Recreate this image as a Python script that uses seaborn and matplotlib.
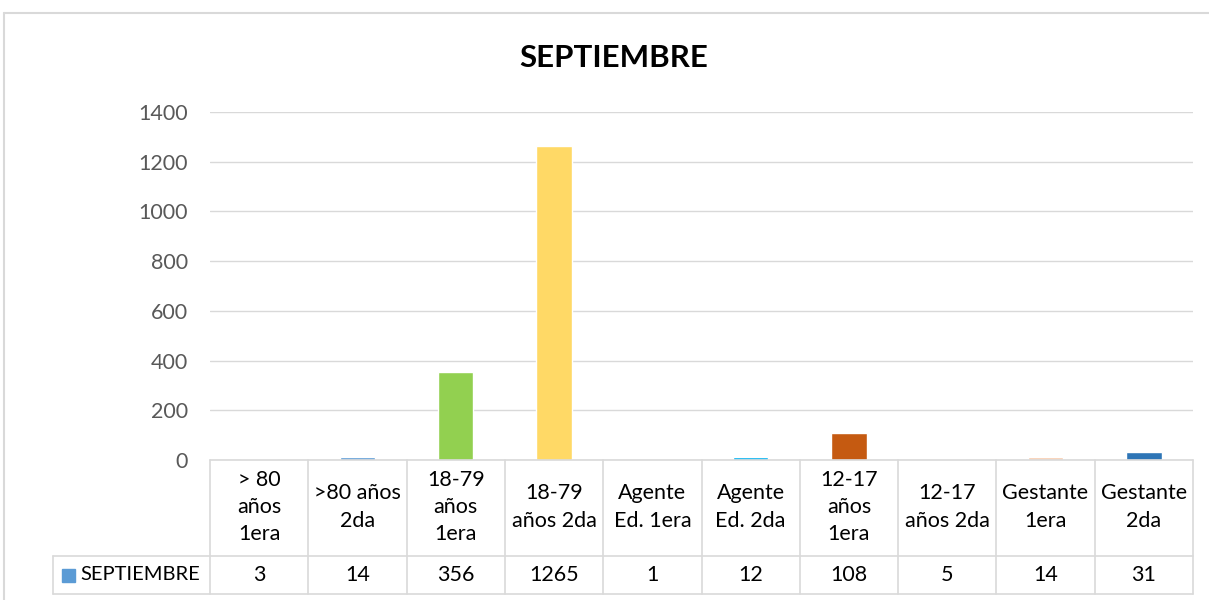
import matplotlib
matplotlib.use("Agg")
import matplotlib.pyplot as plt
import seaborn as sns
import pandas as pd
from matplotlib.patches import Rectangle
from matplotlib.lines import Line2D

categories = ["> 80\naños\n1era", ">80 años\n2da", "18-79\naños\n1era", "18-79\naños 2da",
              "Agente\nEd. 1era", "Agente\nEd. 2da", "12-17\naños\n1era", "12-17\naños 2da",
              "Gestante\n1era", "Gestante\n2da"]
values = [3, 14, 356, 1265, 1, 12, 108, 5, 14, 31]
colors = ["#5B9BD5", "#5B9BD5", "#92D050", "#FFD966", "#A5A5A5", "#00B0F0",
          "#C55A11", "#7F7F7F", "#F8CBAD", "#2E75B6"]
series_name = "SEPTIEMBRE"
title = "SEPTIEMBRE"
yticks = [0, 200, 400, 600, 800, 1000, 1200, 1400]

sns.set_theme(style="white")
plt.rcParams["font.family"] = ["Lato", "DejaVu Sans"]

W, H = 1209, 600
fig = plt.figure(figsize=(W / 100, H / 100), dpi=100)
fig.patch.set_facecolor("white")

x0, x1, y0, y1 = 210, 1193, 460, 112
ax = fig.add_axes([x0 / W, 1 - y0 / H, (x1 - x0) / W, (y0 - y1) / H])

df = pd.DataFrame({"cat": categories, "val": values})
sns.barplot(data=df, x="cat", y="val", hue="cat", palette=colors, legend=False,
            width=0.36, ax=ax, saturation=1)

ax.set_ylim(0, 1400)
ax.set_xlim(-0.5, len(categories) - 0.5)
ax.set_yticks(yticks)
ax.set_yticklabels([str(v) for v in yticks], fontsize=15.5, color="#595959")
ax.tick_params(axis="y", length=0, pad=16)
ax.set_xticks([])
ax.set_xlabel("")
ax.set_ylabel("")
for s in ax.spines.values():
    s.set_visible(False)
ax.grid(axis="y", color="#D9D9D9", linewidth=1)
ax.set_axisbelow(True)

# outer chart frame
fig.add_artist(Line2D([4 / W, 4 / W], [0, 1 - 13 / H], color="#D9D9D9", lw=1.5))
fig.add_artist(Line2D([4 / W, 1], [1 - 13 / H, 1 - 13 / H], color="#D9D9D9", lw=1.5))

fig.text(614 / W, 1 - 58 / H, title, ha="center", va="center", fontsize=22.5,
         fontweight="bold", color="black")

# data table
def fy(py):
    return 1 - py / H

col_w = (x1 - x0) / len(categories)
lc = "#D9D9D9"
fig.add_artist(Line2D([x0 / W, x1 / W], [fy(460), fy(460)], color=lc, lw=1.2))
for py in (556, 594):
    fig.add_artist(Line2D([53 / W, x1 / W], [fy(py), fy(py)], color=lc, lw=1.2))
for i in range(len(categories) + 1):
    px = x0 + i * col_w
    fig.add_artist(Line2D([px / W, px / W], [fy(460), fy(594)], color=lc, lw=1.2))
fig.add_artist(Line2D([53 / W, 53 / W], [fy(556), fy(594)], color=lc, lw=1.2))

for i, (c, v) in enumerate(zip(categories, values)):
    cx = x0 + (i + 0.5) * col_w
    fig.text(cx / W, fy(507), c, ha="center", va="center", fontsize=15.5,
             color="black", linespacing=1.45)
    fig.text(cx / W, fy(575), str(v), ha="center", va="center", fontsize=15.5, color="black")

fig.add_artist(Rectangle((62 / W, fy(582)), 13 / W, 13 / H, color=colors[0],
                         transform=fig.transFigure))
fig.text(80 / W, fy(575), series_name, ha="left", va="center", fontsize=14.5, color="black")

fig.savefig("out.png", dpi=100, facecolor="white")
